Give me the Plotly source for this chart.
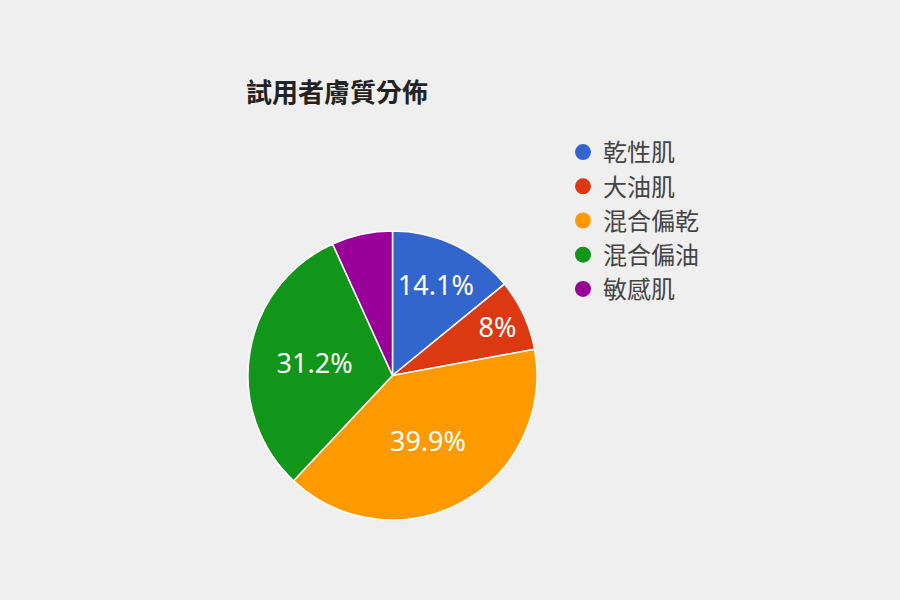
import plotly.graph_objects as go

categories = ["乾性肌", "大油肌", "混合偏乾", "混合偏油", "敏感肌"]
values = [14.1, 8.0, 39.9, 31.2, 6.8]
colors = ["#3366cc", "#dc3912", "#ff9900", "#109618", "#990099"]
show_label = [True, True, True, True, False]
title_text = "試用者膚質分佈"

labels_text = [f"{v:g}%" if s else "" for v, s in zip(values, show_label)]

FONT = "Noto Sans CJK TC, Noto Sans, sans-serif"

fig = go.Figure()
fig.add_trace(go.Pie(
    labels=categories,
    values=values,
    text=labels_text,
    textinfo="text",
    textposition="inside",
    insidetextorientation="horizontal",
    textfont=dict(color="white", size=27, family="Noto Sans, sans-serif"),
    marker=dict(colors=colors, line=dict(color="white", width=1.5)),
    sort=False,
    direction="clockwise",
    rotation=0,
    showlegend=False,
    hoverinfo="label+percent",
    domain=dict(x=[248/900, 537/900], y=[80/600, 369/600]),
))

for i, (c, col) in enumerate(zip(categories, colors)):
    fig.add_trace(go.Scatter(
        x=[None], y=[None], mode="markers", name=c,
        marker=dict(color=col, size=16, symbol="circle"),
        legendgroup=f"g{i}", showlegend=True, hoverinfo="skip",
    ))

fig.update_layout(
    width=900, height=600,
    margin=dict(l=0, r=0, t=0, b=0),
    paper_bgcolor="#efefef",
    plot_bgcolor="#efefef",
    xaxis=dict(visible=False),
    yaxis=dict(visible=False),
    title=dict(text=f"<b>{title_text}</b>", x=246/900, xanchor="left",
               y=1 - 93/600, yanchor="middle",
               font=dict(size=26, color="#222222", family=FONT)),
    legend=dict(x=563/900, xanchor="left", y=1 - 130/600, yanchor="top",
                font=dict(size=24, color="#444444", family=FONT),
                tracegroupgap=0, bgcolor="rgba(0,0,0,0)"),
)

fig.write_html(
    "out.html",
    config={"displayModeBar": False},
    post_script="document.body.style.margin='0';document.body.style.overflow='hidden';",
)
